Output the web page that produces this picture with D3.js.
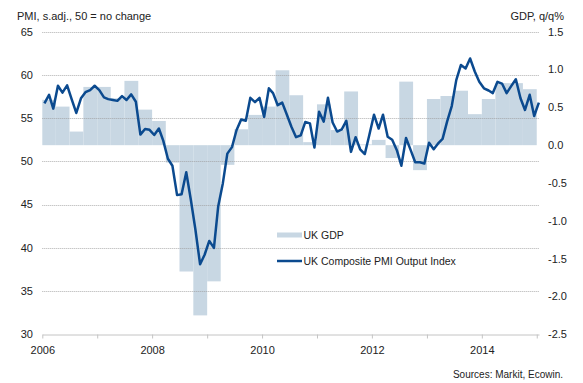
<!DOCTYPE html>
<html>
<head>
<meta charset="utf-8">
<script src="https://cdn.jsdelivr.net/npm/d3@7"></script>
<style>
  body { margin: 0; background: #fff; }
  svg { display: block; font-family: "Liberation Sans", Arial, sans-serif; }
</style>
</head>
<body>
<svg id="chart" width="583" height="383"></svg>
<script>
// UK Composite PMI Output Index, monthly, Jan 2006 .. Jan 2015
const pmi = [
  56.7, 57.7, 56.1, 58.75, 57.95, 58.8, 57.2, 55.6, 57.3, 58.0, 58.25, 58.75,   // 2006
  58.25, 57.4, 57.2, 57.1, 57.0, 57.55, 57.1, 57.75, 56.9, 53.1, 53.75, 53.65,  // 2007
  53.05, 53.8, 52.4, 50.3, 49.5, 46.1, 46.2, 48.75, 45.5, 42.1, 38.1, 39.2,     // 2008
  40.8, 40.0, 44.75, 47.45, 50.9, 51.65, 53.6, 54.85, 54.7, 57.35, 56.85, 57.35,// 2009
  55.15, 58.45, 57.9, 56.5, 56.8, 55.4, 54.0, 52.8, 53.0, 54.55, 54.4, 51.6,    // 2010
  55.75, 54.6, 57.35, 54.5, 53.45, 53.7, 54.7, 51.1, 52.8, 51.4, 50.85, 53.05,  // 2011
  55.4, 53.8, 55.4, 52.85, 52.5, 51.3, 49.5, 52.7, 51.3, 49.9, 49.9, 49.75,     // 2012
  52.15, 51.4, 52.05, 52.6, 54.6, 56.4, 59.4, 61.15, 60.75, 61.9, 60.4, 59.2,   // 2013
  58.45, 58.2, 57.9, 59.2, 59.0, 57.9, 58.7, 59.5, 57.3, 55.95, 57.7, 55.25,    // 2014
  56.8                                                                          // 2015
];
// UK GDP q/q %, quarterly, 2006 Q1 .. 2014 Q4
const gdp = [
  0.60, 0.51, 0.18, 0.77,
  0.77, 0.62, 0.85, 0.47,
  0.32, -0.23, -1.67, -2.25,
  -1.80, -0.26, 0.21, 0.40,
  0.51, 0.99, 0.66, 0.04,
  0.54, 0.20, 0.71, 0.01,
  0.07, -0.17, 0.84, -0.33,
  0.61, 0.65, 0.72, 0.41,
  0.61, 0.82, 0.82, 0.74
];
const leftTicks = [30, 35, 40, 45, 50, 55, 60, 65];
const rightTicks = [-2.5, -2.0, -1.5, -1.0, -0.5, 0.0, 0.5, 1.0, 1.5];
const yearLabels = [2006, 2008, 2010, 2012, 2014];
const startYear = 2006;

const barColor = "#c8d7e3";
const lineColor = "#0b4a8f";
const textColor = "#222";

const svg = d3.select("#chart");
const W = 583, H = 383;
const margin = { top: 31.7, right: 44, bottom: 48.7, left: 42.3 };

const x = d3.scaleTime()
  .domain([new Date(startYear, 0, 1), new Date(2015, 0, 16)])
  .range([margin.left, W - margin.right]);
const yL = d3.scaleLinear().domain([30, 65]).range([H - margin.bottom, margin.top]);
const yR = d3.scaleLinear().domain([-2.5, 1.5]).range([H - margin.bottom, margin.top]);

// GDP bars
svg.append("g")
  .selectAll("rect")
  .data(gdp)
  .join("rect")
    .attr("x", (d, i) => x(new Date(startYear, i * 3, 1)))
    .attr("width", (d, i) => x(new Date(startYear, i * 3 + 3, 1)) - x(new Date(startYear, i * 3, 1)))
    .attr("y", d => yR(Math.max(0, d)))
    .attr("height", d => Math.abs(yR(d) - yR(0)))
    .attr("fill", barColor);

// gridlines (dotted)
svg.append("g")
  .selectAll("line")
  .data(leftTicks.filter(d => d > 30))
  .join("line")
    .attr("x1", margin.left)
    .attr("x2", W - margin.right)
    .attr("y1", d => Math.round(yL(d)) + 0.5)
    .attr("y2", d => Math.round(yL(d)) + 0.5)
    .attr("stroke", "#9a9a9a")
    .attr("stroke-width", 0.8)
    .attr("stroke-dasharray", "1,1");

// x axis
const xAxis = d3.axisBottom(x)
  .ticks(d3.timeYear.every(1))
  .tickSize(4)
  .tickSizeOuter(0)
  .tickFormat(d => yearLabels.includes(d.getFullYear()) ? d.getFullYear() : "");
const gx = svg.append("g")
  .attr("transform", `translate(0,${Math.round(yL(30)) + 0.5})`)
  .call(xAxis);
gx.select(".domain").attr("stroke", "#c4c4c4");
gx.selectAll(".tick line").attr("stroke", "#c4c4c4");
gx.selectAll(".tick text")
  .attr("fill", textColor)
  .attr("font-size", 11)
  .attr("dy", "1.1em")
  .attr("font-family", "Liberation Sans, Arial, sans-serif");

// PMI line
const line = d3.line()
  .x((d, i) => x(new Date(startYear, i, 15)))
  .y(d => yL(d));
svg.append("path")
  .datum(pmi)
  .attr("d", line)
  .attr("fill", "none")
  .attr("stroke", lineColor)
  .attr("stroke-width", 2.5)
  .attr("stroke-linejoin", "round");

// left tick labels
svg.append("g")
  .selectAll("text")
  .data(leftTicks)
  .join("text")
    .attr("x", 33)
    .attr("y", d => yL(d))
    .attr("dy", "0.35em")
    .attr("text-anchor", "end")
    .attr("font-size", 11)
    .attr("fill", textColor)
    .text(d => d);

// right tick labels
svg.append("g")
  .selectAll("text")
  .data(rightTicks)
  .join("text")
    .attr("x", 548)
    .attr("y", d => yR(d))
    .attr("dy", "0.35em")
    .attr("font-size", 11)
    .attr("fill", textColor)
    .text(d => d.toFixed(1));

// axis titles
svg.append("text")
  .attr("x", 17).attr("y", 20)
  .attr("font-size", 11)
  .attr("fill", textColor)
  .text("PMI, s.adj., 50 = no change");
svg.append("text")
  .attr("x", 564).attr("y", 20)
  .attr("text-anchor", "end")
  .attr("font-size", 11)
  .attr("fill", textColor)
  .text("GDP, q/q%");

// legend
const legend = svg.append("g").attr("transform", "translate(277,0)");
legend.append("rect")
  .attr("x", 0).attr("y", 232.5)
  .attr("width", 25).attr("height", 5)
  .attr("fill", barColor);
legend.append("text")
  .attr("x", 26.5).attr("y", 235)
  .attr("dy", "0.35em")
  .attr("font-size", 10.5)
  .attr("fill", textColor)
  .text("UK GDP");
legend.append("line")
  .attr("x1", 0).attr("x2", 25)
  .attr("y1", 261).attr("y2", 261)
  .attr("stroke", lineColor)
  .attr("stroke-width", 2.5);
legend.append("text")
  .attr("x", 26.5).attr("y", 261)
  .attr("dy", "0.35em")
  .attr("font-size", 10.5)
  .attr("fill", textColor)
  .text("UK Composite PMI Output Index");

// source
svg.append("text")
  .attr("x", 563).attr("y", 378)
  .attr("text-anchor", "end")
  .attr("font-size", 10)
  .attr("fill", textColor)
  .text("Sources: Markit, Ecowin.");
</script>
</body>
</html>
